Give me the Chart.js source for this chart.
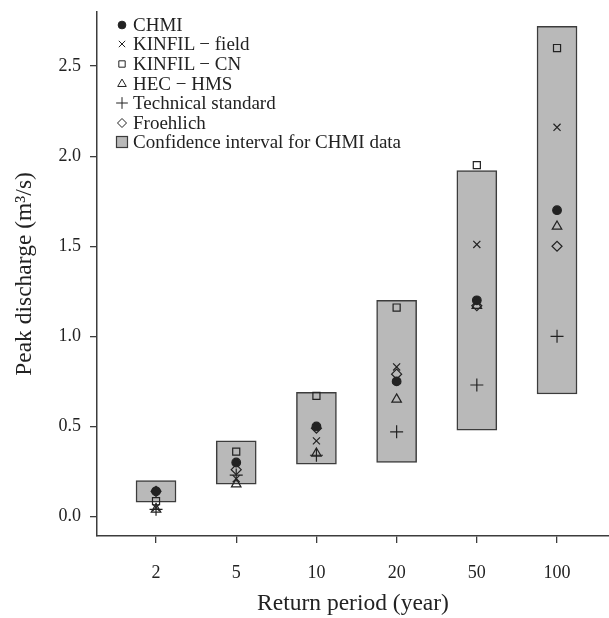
<!DOCTYPE html>
<html>
<head>
<meta charset="utf-8">
<title>Peak discharge vs return period</title>
<script src="https://cdn.jsdelivr.net/npm/chart.js@4.4.1/dist/chart.umd.min.js"></script>
<style>
    html, body { margin: 0; padding: 0; background: #fff; }
    #wrap { position: relative; width: 609px; height: 618px; }
    #legend {
        position: absolute; left: 114px; top: 15px;
        font: 19px 'Liberation Serif', 'Times New Roman', serif; color: #222;
    }
    .item { display: flex; align-items: center; height: 19.6px; white-space: nowrap; }
    .item canvas { width: 16px; height: 16px; margin-right: 3px; }
</style>
</head>
<body>
<div id="wrap">
    <canvas id="chart" width="609" height="618"></canvas>
    <div id="legend"></div>
</div>
<script>
// return periods (years) on the x axis
const periods = ['2', '5', '10', '20', '50', '100'];

// peak discharge (m3/s) per method
const chmi        = [0.14, 0.30, 0.50, 0.75, 1.20, 1.70];
const kinfilField = [0.05, 0.21, 0.42, 0.83, 1.51, 2.16];
const kinfilCN    = [0.085, 0.36, 0.67, 1.16, 1.95, 2.60];
const hecHms      = [0.04, 0.18, 0.35, 0.65, 1.17, 1.61];
const techStd     = [0.04, 0.23, 0.34, 0.47, 0.73, 1.00];
const froehlich   = [0.14, 0.26, 0.49, 0.79, 1.17, 1.50];

// confidence interval for CHMI data
const ciLow  = [0.08, 0.18, 0.29, 0.30, 0.48, 0.68];
const ciHigh = [0.20, 0.42, 0.69, 1.20, 1.92, 2.72];

const yTicks = [0, 0.5, 1.0, 1.5, 2.0, 2.5];

const FONT = "'Liberation Serif', 'Times New Roman', serif";
const INK = '#222';
const AXIS = '#3c3c3c';
const NONE = 'rgba(0,0,0,0)';

const series = [
    { label: 'CHMI', data: chmi, style: 'circle', radius: 4.3, fill: INK },
    { label: 'KINFIL \u2212 field', data: kinfilField, style: 'crossRot', radius: 5 },
    { label: 'KINFIL \u2212 CN', data: kinfilCN, style: 'rect', radius: 5 },
    { label: 'HEC \u2212 HMS', data: hecHms, style: 'triangle', radius: 5.5 },
    { label: 'Technical standard', data: techStd, style: 'cross', radius: 6.5 },
    { label: 'Froehlich', data: froehlich, style: 'rectRot', radius: 5 }
];

function toPoints(values) {
    return values.map((v, i) => ({ x: i, y: v }));
}

const datasets = series.map(s => ({
    label: s.label,
    data: toPoints(s.data),
    pointStyle: s.style,
    pointRadius: s.radius,
    pointHoverRadius: s.radius,
    backgroundColor: s.fill || NONE,
    borderColor: INK,
    borderWidth: 1.2
}));

datasets.push({
    type: 'bar',
    label: 'Confidence interval for CHMI data',
    data: ciLow.map((lo, i) => ({ x: i, y: [lo, ciHigh[i]] })),
    backgroundColor: '#b9b9b9',
    borderColor: AXIS,
    borderWidth: 1.5,
    borderSkipped: false,
    barThickness: 40
});

const tickFont = { family: FONT, size: 18 };
const titleFont = { family: FONT, size: 23.5 };
const borderOpts = { display: true, color: AXIS, width: 1.5 };

function gridOpts() {
    return { offset: false, drawOnChartArea: false, drawTicks: true, tickLength: 7, color: AXIS, lineWidth: 1.3 };
}

const chart = new Chart(document.getElementById('chart'), {
    type: 'scatter',
    data: { datasets: datasets },
    options: {
        responsive: false,
        animation: false,
        layout: { autoPadding: false, padding: { top: 12, right: 0, left: 0, bottom: 0 } },
        plugins: {
            legend: { display: false },
            tooltip: { enabled: false }
        },
        scales: {
            x: {
                type: 'linear',
                offset: false,
                min: -0.736,
                max: 5.648,
                afterBuildTicks: scale => {
                    scale.ticks = periods.map((p, i) => ({ value: i }));
                },
                afterFit: scale => {
                    scale.height = 82;
                    scale.paddingLeft = 0;
                    scale.paddingRight = 0;
                },
                ticks: {
                    callback: value => periods[Math.round(value)],
                    font: tickFont, color: INK, padding: 19, maxRotation: 0, autoSkip: false
                },
                grid: gridOpts(),
                border: borderOpts,
                title: {
                    display: true, text: 'Return period (year)',
                    font: titleFont, color: INK, padding: { top: 0, bottom: 0 }
                }
            },
            y: {
                offset: false,
                min: -0.108,
                max: 2.80,
                afterBuildTicks: scale => {
                    scale.ticks = yTicks.map(v => ({ value: v }));
                },
                afterFit: scale => {
                    scale.width = 97;
                    scale.paddingTop = 0;
                    scale.paddingBottom = 0;
                },
                ticks: {
                    callback: value => value.toFixed(1),
                    font: tickFont, color: INK, padding: 9
                },
                grid: gridOpts(),
                border: borderOpts,
                title: {
                    display: true, text: 'Peak discharge (m\u00b3/s)',
                    font: titleFont, color: INK, padding: { top: 11, bottom: 0 }
                }
            }
        }
    }
});

// legend inside the plot, top left, built from the datasets
function buildLegend() {
    const legendEl = document.getElementById('legend');
    const dpr = window.devicePixelRatio || 1;
    chart.data.datasets.forEach(ds => {
        const item = document.createElement('div');
        item.className = 'item';
        const c = document.createElement('canvas');
        c.width = 16 * dpr;
        c.height = 16 * dpr;
        const ctx = c.getContext('2d');
        ctx.scale(dpr, dpr);
        if (ds.type === 'bar') {
            ctx.fillStyle = ds.backgroundColor;
            ctx.strokeStyle = ds.borderColor;
            ctx.lineWidth = 1.2;
            ctx.fillRect(2.5, 2.5, 11, 11);
            ctx.strokeRect(2.5, 2.5, 11, 11);
        } else {
            ctx.fillStyle = ds.backgroundColor;
            ctx.strokeStyle = ds.borderColor;
            ctx.lineWidth = 1;
            Chart.helpers.drawPoint(ctx, {
                pointStyle: ds.pointStyle,
                radius: ds.pointRadius * 0.9,
                rotation: 0,
                borderWidth: 1
            }, 8, 8);
        }
        const span = document.createElement('span');
        span.textContent = ds.label;
        item.appendChild(c);
        item.appendChild(span);
        legendEl.appendChild(item);
    });
}
buildLegend();
</script>
</body>
</html>
